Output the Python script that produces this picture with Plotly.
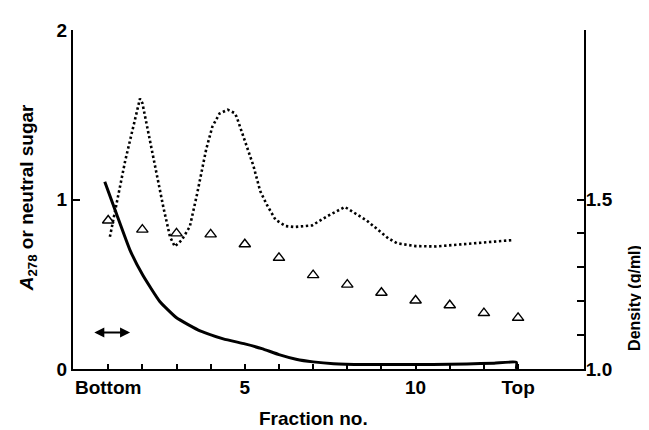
import plotly.graph_objects as go

# ---- data ----
frac_ticks = list(range(1, 14))
frac_tick_text = ["Bottom", "", "", "", "5", "", "", "", "", "10", "", "", "Top"]

# A278 (solid line), left axis
a278_x = [0.9, 1.245, 1.635, 2.02, 2.51, 3.0, 3.69, 4.37, 5.0, 5.5, 6.0, 6.5, 7.0, 7.6, 8.5, 9.5,
          10.5, 11.5, 12.3, 12.95, 12.95]
a278_y = [1.105, 0.914, 0.703, 0.551, 0.398, 0.302, 0.225, 0.178, 0.148, 0.12, 0.085, 0.058, 0.042,
          0.031, 0.026, 0.026, 0.027, 0.03, 0.034, 0.04, 0.0]

# neutral sugar (dotted line), left axis
sugar_x = [1.05, 1.2, 1.5, 1.93, 2.0, 2.2, 2.42, 2.62, 2.81, 2.95, 3.15, 3.39, 3.6, 3.87, 4.05,
           4.26, 4.5, 4.7, 4.76, 5.0, 5.25, 5.45, 5.64, 5.9, 6.2, 6.45, 6.97, 7.4, 7.93, 8.57,
           9.2, 9.45, 10.0, 10.6, 11.2, 12.0, 12.86]
sugar_y = [0.78, 0.933, 1.23, 1.595, 1.57, 1.37, 1.143, 0.95, 0.78, 0.723, 0.76, 0.84, 1.03, 1.297,
           1.43, 1.507, 1.53, 1.51, 1.488, 1.344, 1.2, 1.05, 0.971, 0.88, 0.843, 0.838, 0.847, 0.9,
           0.956, 0.876, 0.771, 0.742, 0.725, 0.723, 0.732, 0.745, 0.761]

# density (triangles), right axis
dens_x = list(range(1, 14))
dens_y = [1.438, 1.411, 1.400, 1.397, 1.368, 1.328, 1.277, 1.249, 1.225, 1.202, 1.188, 1.165, 1.151]

# bar showing loaded sample range
arrow_x = [0.55, 1.64]
arrow_y = 0.216

left_ticks = [0, 1, 2]
right_ticks = [1.0, 1.1, 1.2, 1.3, 1.4, 1.5]
right_tick_text = ["1.0", "", "", "", "", "1.5"]

FONT = "Liberation Sans, Arial, sans-serif"

fig = go.Figure()
fig.add_trace(go.Scatter(x=sugar_x, y=sugar_y, mode="lines",
                         line=dict(color="black", width=2.6, dash="2.4px,2.6px"),
                         yaxis="y", hoverinfo="skip"))
fig.add_trace(go.Scatter(x=a278_x, y=a278_y, mode="lines",
                         line=dict(color="black", width=3, shape="spline", smoothing=0.4),
                         yaxis="y", hoverinfo="skip"))
fig.add_trace(go.Scatter(x=dens_x, y=dens_y, mode="markers",
                         marker=dict(symbol="triangle-up-open", size=10, color="black",
                                     line=dict(width=1.4, color="black")),
                         yaxis="y2", hoverinfo="skip"))

fig.add_annotation(x=arrow_x[1], y=arrow_y, ax=arrow_x[0], ay=arrow_y, axref="x", ayref="y",
                   xref="x", yref="y", text="", showarrow=True, arrowside="end+start",
                   arrowhead=2, arrowsize=1, arrowwidth=2, arrowcolor="black")

fig.add_annotation(x=7, y=-0.146, xref="x", yref="paper", text="Fraction no.",
                   xanchor="center", yanchor="middle",
                   showarrow=False, font=dict(family=FONT, size=19, color="black", weight="bold"))
fig.add_annotation(x=-0.089, y=0.505, xref="paper", yref="paper",
                   text="<i>A</i><sub>278</sub> or neutral sugar", textangle=-90,
                   xanchor="center", yanchor="middle",
                   showarrow=False, font=dict(family=FONT, size=19, color="black", weight="bold"))
fig.add_annotation(x=1.1, y=0.21, xref="paper", yref="paper", text="Density (g/ml)",
                   textangle=-90, showarrow=False, xanchor="center", yanchor="middle",
                   font=dict(family=FONT, size=16, color="black", weight="bold"))

tickfont = dict(family=FONT, size=19, color="black", weight="bold")

# page body has an 8px default margin, so the figure is sized and offset to compensate
fig.update_layout(
    width=641, height=422,
    margin=dict(l=65, r=65, t=13, b=61),
    paper_bgcolor="white", plot_bgcolor="white",
    showlegend=False,
    xaxis=dict(range=[-0.03, 14.93], showgrid=False, zeroline=False,
               showline=True, linecolor="black", linewidth=2,
               ticks="inside", ticklen=5, tickwidth=1.5, tickcolor="black",
               tickvals=frac_ticks, ticktext=frac_tick_text, tickfont=tickfont),
    yaxis=dict(range=[0, 2], showgrid=False, zeroline=False,
               showline=True, linecolor="black", linewidth=2,
               ticks="inside", ticklen=7, tickwidth=1.5, tickcolor="black",
               tickvals=left_ticks, tickfont=tickfont),
    yaxis2=dict(range=[1.0, 2.0], overlaying="y", side="right", anchor="x",
                showgrid=False, zeroline=False,
                showline=True, linecolor="black", linewidth=2,
                ticks="inside", ticklen=7, tickwidth=1.5, tickcolor="black",
                ticklabelstandoff=-4,
                tickvals=right_ticks, ticktext=right_tick_text, tickfont=tickfont),
)

fig.write_html("out.html")
